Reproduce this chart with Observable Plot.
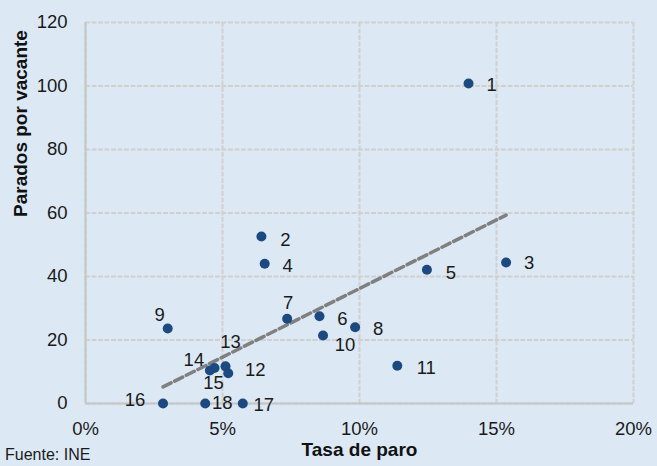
<!DOCTYPE html>
<html><head><meta charset="utf-8">
<script src="https://cdn.jsdelivr.net/npm/d3@7"></script>
<script src="https://cdn.jsdelivr.net/npm/@observablehq/plot@0.6"></script>
<style>
html,body{margin:0;padding:0;background:#dce9f5;overflow:hidden;}
#wrap{position:relative;width:657px;height:466px;}
#src{position:absolute;left:5px;top:447px;font:16px "Liberation Sans",Arial,sans-serif;line-height:1;color:#1a1a1a;white-space:nowrap;}
</style></head>
<body><div id="wrap"><div id="chart"></div><div id="src">Fuente: INE</div></div>
<script>
// ---- data ----
const ids = ["1","2","3","4","5","6","7","8","9","10","11","12","13","14","15","16","17","18"];
const tasaParo = [0.1398, 0.0642, 0.1535, 0.0654, 0.1246, 0.0854, 0.0736, 0.0984, 0.0300, 0.0867, 0.1138, 0.0521, 0.0511, 0.0454, 0.0471, 0.0283, 0.0574, 0.0437];
const paradosPorVacante = [100.8, 52.6, 44.4, 44.0, 42.1, 27.5, 26.7, 24.0, 23.6, 21.4, 11.9, 9.5, 11.7, 10.4, 11.2, 0, 0, 0];
const xTicks = [0, 0.05, 0.10, 0.15, 0.20];
const yTicks = [0, 20, 40, 60, 80, 100, 120];
const xTitle = "Tasa de paro";
const yTitle = "Parados por vacante";

// ---- layout (label offsets in px, separate from data) ----
const labelOffset = {
  "1":[23,2], "2":[24,4], "3":[23,1], "4":[23,2], "5":[24,3], "6":[23,3],
  "7":[1,-16], "8":[23,2], "9":[-8,-13], "10":[22,10], "11":[29,2], "12":[27,-3],
  "13":[5,-24], "14":[-16,-10], "15":[-1,15], "16":[-28,-3], "17":[21,2], "18":[17,0]
};

const data = ids.map((id, i) => ({id, x: tasaParo[i], y: paradosPorVacante[i]}));

const gridStyle = {stroke: "#d0d0d0", strokeOpacity: 1, strokeWidth: 2, strokeDasharray: "5,1.5"};

const labelMarks = data.map(d => Plot.text([d], {
  x: "x", y: "y", text: "id",
  dx: labelOffset[d.id][0], dy: labelOffset[d.id][1],
  fill: "#1a1a1a", fontSize: 18.5, lineAnchor: "middle"
}));

const chart = Plot.plot({
  width: 657, height: 466,
  marginLeft: 85, marginRight: 24, marginTop: 22, marginBottom: 63,
  x: {domain: [0, 0.2]},
  y: {domain: [0, 120]},
  style: {background: "transparent", fontFamily: "'Liberation Sans', Arial, sans-serif", fontSize: "18.5px", color: "#1a1a1a"},
  marks: [
    Plot.gridX(xTicks, gridStyle),
    Plot.gridY(yTicks, gridStyle),
    Plot.ruleX([0], {stroke: "#c6c6c6", strokeWidth: 2}),
    Plot.ruleY([0], {stroke: "#c6c6c6", strokeWidth: 2}),
    Plot.axisX(xTicks, {tickFormat: d3.format(".0%"), tickSize: 0, tickPadding: 18, label: null, fontSize: 18.5}),
    Plot.axisY(yTicks, {tickSize: 0, tickPadding: 18, label: null, fontSize: 18.5}),
    Plot.linearRegressionY(data, {x: "x", y: "y", ci: 0, stroke: "#808080", strokeWidth: 3.5, strokeDasharray: "9,4"}),
    Plot.dot(data, {x: "x", y: "y", r: 5, fill: "#1c4a80"}),
    ...labelMarks,
    Plot.text([xTitle], {frameAnchor: "bottom", dy: 52, fontWeight: "bold", fontSize: 19, fill: "#111"}),
    Plot.text([yTitle], {frameAnchor: "left", rotate: -90, dx: -65, dy: 4, fontWeight: "bold", fontSize: 19, fill: "#111"})
  ]
});
document.getElementById("chart").appendChild(chart);
</script>
</body></html>
